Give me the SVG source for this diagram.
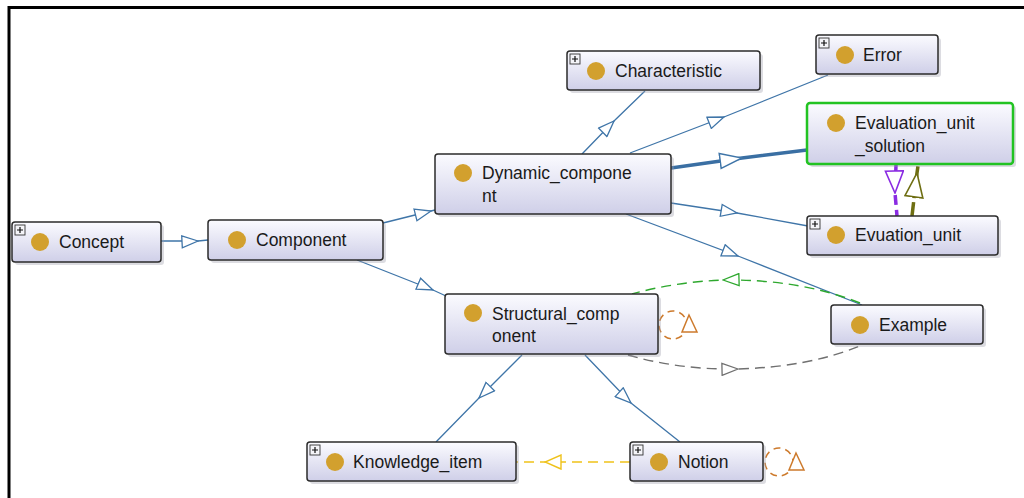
<svg xmlns="http://www.w3.org/2000/svg" width="1024" height="498" viewBox="0 0 1024 498">
<defs>
<linearGradient id="nodeGrad" x1="0" y1="0" x2="0" y2="1">
<stop offset="0" stop-color="#fbfbff"/>
<stop offset="1" stop-color="#cfcfe8"/>
</linearGradient>
<marker id="aBlue" markerUnits="userSpaceOnUse" viewBox="0 0 18 14" refX="17" refY="7" markerWidth="18" markerHeight="14" orient="auto">
<path d="M1,1 L17,7 L1,13 Z" fill="#fff" stroke="#3f75a8" stroke-width="1.3"/>
</marker>
<marker id="aBlueBig" markerUnits="userSpaceOnUse" viewBox="0 0 24 18" refX="23" refY="9" markerWidth="24" markerHeight="18" orient="auto">
<path d="M1,1.5 L23,9 L1,16.5 Z" fill="#fff" stroke="#3f75a8" stroke-width="1.5"/>
</marker>
<marker id="aPurple" markerUnits="userSpaceOnUse" viewBox="0 0 24 20" refX="23" refY="10" markerWidth="24" markerHeight="20" orient="auto">
<path d="M1,1 L23,10 L1,19 Z" fill="#fff" stroke="#8a2be2" stroke-width="1.6"/>
</marker>
<marker id="aOlive" markerUnits="userSpaceOnUse" viewBox="0 0 26 20" refX="25" refY="10" markerWidth="26" markerHeight="20" orient="auto">
<path d="M1,1 L25,10 L1,19 Z" fill="#fff" stroke="#6e6e12" stroke-width="1.6"/>
</marker>
<marker id="aGreen" markerUnits="userSpaceOnUse" viewBox="0 0 18 14" refX="17" refY="7" markerWidth="18" markerHeight="14" orient="auto">
<path d="M1,1 L17,7 L1,13 Z" fill="#fff" stroke="#2ea82e" stroke-width="1.3"/>
</marker>
<marker id="aGray" markerUnits="userSpaceOnUse" viewBox="0 0 18 14" refX="17" refY="7" markerWidth="18" markerHeight="14" orient="auto">
<path d="M1,1 L17,7 L1,13 Z" fill="#fff" stroke="#707070" stroke-width="1.3"/>
</marker>
<marker id="aYellow" markerUnits="userSpaceOnUse" viewBox="0 0 18 16" refX="17" refY="8" markerWidth="18" markerHeight="16" orient="auto">
<path d="M1,1 L17,8 L1,15 Z" fill="#fff" stroke="#efc21a" stroke-width="1.4"/>
</marker>
</defs>
<style>
.frame{fill:none;stroke:#000;stroke-width:3}
.box{fill:url(#nodeGrad);stroke:#2b2b2b;stroke-width:1.5}
.sel{fill:url(#nodeGrad);stroke:#22c322;stroke-width:2.5}
.shadow{fill:#9a9aa8;opacity:0.35}
.dot{fill:#d2a02e}
.plus{fill:#f4f4f8;stroke:#333;stroke-width:0.9}
.plusmark{stroke:#111;stroke-width:1.2}
.lbl{font-family:"Liberation Sans",Arial,sans-serif;font-size:17.5px;fill:#1a1a1a}
.e{fill:none;stroke:#3f75a8;stroke-width:1.3;marker-mid:url(#aBlue)}
.thick{fill:none;stroke:#3a6fa3;stroke-width:3.5;marker-mid:url(#aBlueBig)}
.purple{fill:none;stroke:#8a2be2;stroke-width:3.5;stroke-dasharray:10 5;marker-mid:url(#aPurple)}
.olive{fill:none;stroke:#6e6e12;stroke-width:3.5;stroke-dasharray:14 4;marker-mid:url(#aOlive)}
.green{fill:none;stroke:#2ea82e;stroke-width:1.4;stroke-dasharray:10 6;marker-mid:url(#aGreen)}
.gray{fill:none;stroke:#707070;stroke-width:1.4;stroke-dasharray:10 6;marker-mid:url(#aGray)}
.yellow{fill:none;stroke:#efc21a;stroke-width:1.6;stroke-dasharray:10 6;marker-mid:url(#aYellow)}
.loop{fill:none;stroke:#cd7a2c;stroke-width:1.5;stroke-dasharray:7 5}
.loophead{fill:#fff;stroke:#cd7a2c;stroke-width:1.5}
</style>
<rect x="0" y="0" width="1024" height="498" fill="#fff"/>
<path class="frame" d="M9,498 V7.5 H1024"/>

<g id="connectors">
<path class="e" d="M161,241 L198,241 L208,240"/>
<path class="e" d="M383,223 L431,211 L435,210"/>
<path class="e" d="M357,260 L433,290 L446,296"/>
<path class="e" d="M582,154 L614,121 L645,91"/>
<path class="e" d="M630,153 L724,117 L828,75"/>
<path class="thick" d="M671,168 L742,158 L807,150"/>
<path class="e" d="M671,203 L737,213 L808,226"/>
<path class="e" d="M626,214 L738,256 L862,305"/>
<path class="e" d="M522,355 L479,398 L436,442"/>
<path class="e" d="M585,355 L631,403 L680,442"/>
<path class="purple" d="M896,165 L895,193 L897,216"/>
<path class="olive" d="M912,216 L917,173 L918,166"/>
<path class="green" d="M860,303 Q800,279 723,280 Q675,282 632,294"/>
<path class="gray" d="M628,355 Q680,370 738,369 Q810,367 862,345"/>
<path class="yellow" d="M630,462 L545,462 L516,462"/>
<circle class="loop" cx="673" cy="325" r="14"/>
<path class="loophead" d="M689,315 L682,332 L697,332 Z"/>
<circle class="loop" cx="779" cy="462" r="14"/>
<path class="loophead" d="M796,453 L789,470 L804,470 Z"/>
</g>

<g id="node-concept">
<rect class="shadow" x="15" y="225" width="149" height="40" rx="3"/>
<rect class="box" x="12" y="222" width="149" height="40" rx="3"/>
<rect class="plus" x="15" y="225" width="10" height="10"/>
<path class="plusmark" d="M17,230 H23 M20,227 V233"/>
<circle class="dot" cx="40" cy="242" r="9"/>
<text class="lbl" x="59" y="248">Concept</text>
</g>

<g id="node-component">
<rect class="shadow" x="211" y="223" width="175" height="40" rx="3"/>
<rect class="box" x="208" y="220" width="175" height="40" rx="3"/>
<circle class="dot" cx="237" cy="240" r="9"/>
<text class="lbl" x="256" y="246">Component</text>
</g>

<g id="node-dynamic">
<rect class="shadow" x="438" y="157" width="236" height="60" rx="3"/>
<rect class="box" x="435" y="154" width="236" height="60" rx="3"/>
<circle class="dot" cx="463" cy="173" r="9"/>
<text class="lbl" x="482" y="179">Dynamic_compone</text>
<text class="lbl" x="482" y="202">nt</text>
</g>

<g id="node-characteristic">
<rect class="shadow" x="570" y="54" width="193" height="39" rx="3"/>
<rect class="box" x="567" y="51" width="193" height="39" rx="3"/>
<rect class="plus" x="570" y="54" width="10" height="10"/>
<path class="plusmark" d="M572,59 H578 M575,56 V62"/>
<circle class="dot" cx="596" cy="71" r="9"/>
<text class="lbl" x="615" y="77">Characteristic</text>
</g>

<g id="node-error">
<rect class="shadow" x="819" y="38" width="122" height="39" rx="3"/>
<rect class="box" x="816" y="35" width="122" height="39" rx="3"/>
<rect class="plus" x="819" y="38" width="10" height="10"/>
<path class="plusmark" d="M821,43 H827 M824,40 V46"/>
<circle class="dot" cx="845" cy="55" r="9"/>
<text class="lbl" x="863" y="61">Error</text>
</g>

<g id="node-evaluation-unit-solution">
<rect class="shadow" x="810" y="106" width="206" height="61" rx="3"/>
<rect class="sel" x="807" y="103" width="206" height="61" rx="3"/>
<circle class="dot" cx="836" cy="123" r="9"/>
<text class="lbl" x="855" y="129">Evaluation_unit</text>
<text class="lbl" x="855" y="152">_solution</text>
</g>

<g id="node-evuation-unit">
<rect class="shadow" x="810" y="219" width="191" height="39" rx="3"/>
<rect class="box" x="807" y="216" width="191" height="39" rx="3"/>
<rect class="plus" x="810" y="219" width="10" height="10"/>
<path class="plusmark" d="M812,224 H818 M815,221 V227"/>
<circle class="dot" cx="836" cy="235" r="9"/>
<text class="lbl" x="855" y="241">Evuation_unit</text>
</g>

<g id="node-structural">
<rect class="shadow" x="448" y="297" width="213" height="60" rx="3"/>
<rect class="box" x="445" y="294" width="213" height="60" rx="3"/>
<circle class="dot" cx="473" cy="313" r="9"/>
<text class="lbl" x="492" y="320">Structural_comp</text>
<text class="lbl" x="492" y="342">onent</text>
</g>

<g id="node-example">
<rect class="shadow" x="834" y="308" width="152" height="39" rx="3"/>
<rect class="box" x="831" y="305" width="152" height="39" rx="3"/>
<circle class="dot" cx="860" cy="325" r="9"/>
<text class="lbl" x="879" y="331">Example</text>
</g>

<g id="node-knowledge-item">
<rect class="shadow" x="310" y="445" width="209" height="39" rx="3"/>
<rect class="box" x="307" y="442" width="209" height="39" rx="3"/>
<rect class="plus" x="310" y="445" width="10" height="10"/>
<path class="plusmark" d="M312,450 H318 M315,447 V453"/>
<circle class="dot" cx="335" cy="462" r="9"/>
<text class="lbl" x="353" y="468">Knowledge_item</text>
</g>

<g id="node-notion">
<rect class="shadow" x="633" y="445" width="133" height="39" rx="3"/>
<rect class="box" x="630" y="442" width="133" height="39" rx="3"/>
<rect class="plus" x="633" y="445" width="10" height="10"/>
<path class="plusmark" d="M635,450 H641 M638,447 V453"/>
<circle class="dot" cx="659" cy="462" r="9"/>
<text class="lbl" x="678" y="468">Notion</text>
</g>
</svg>
